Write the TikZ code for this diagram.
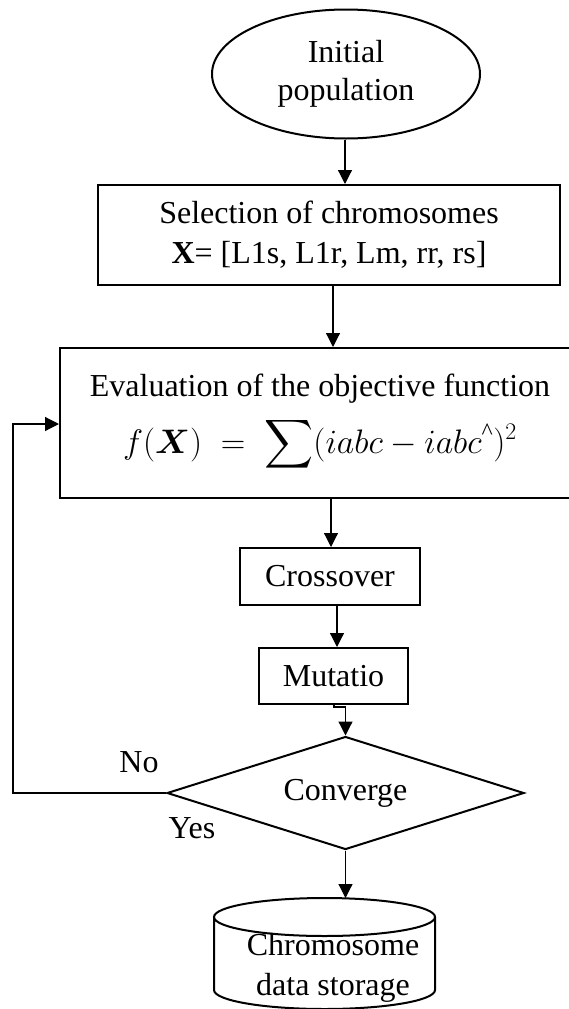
\RequirePackage{fix-cm}
\documentclass[tikz,border=0pt]{standalone}
\usepackage{amsmath}
\usepackage{fontspec}
\setmainfont{Liberation Serif}
\usetikzlibrary{arrows.meta,shapes.geometric}
% scalable large operators
\DeclareFontFamily{OMX}{cmex}{}
\DeclareFontShape{OMX}{cmex}{m}{n}{<->cmex10}{}

\tikzset{
  txt/.style={font=\fontsize{32}{40}\selectfont, align=center, inner sep=0pt},
  procbox/.style={txt, draw, line width=2pt, rectangle},
  conn/.style={line width=1.2pt, -{Triangle[width=14pt,length=14pt]}},
  lbl/.style={font=\fontsize{32}{40}\selectfont, inner sep=0pt}
}

\begin{document}
\begin{tikzpicture}[x=1pt, y=-1pt]
  \useasboundingbox (0,0) rectangle (569,1009);

  % start terminal
  \node[txt, draw, ellipse, line width=2pt, minimum width=268pt, minimum height=129pt]
    (init) at (346,74) {Initial\\[-2pt]population};

  % processing steps
  \node[procbox, minimum width=462pt, minimum height=100pt]
    (select) at (329,235) {Selection of chromosomes\\ $\mathbf{X}$= [L1s, L1r, Lm, rr, rs]};

  \node[procbox, minimum width=520pt, minimum height=150pt]
    (eval) at (320,423) {Evaluation of the objective function\\[13pt]
      {\fontsize{34}{40}\selectfont
       $f(\boldsymbol{X}) \;=\; \displaystyle\sum (iabc - iabc^{\text{\textasciicircum}})^2$}};

  \node[procbox, minimum width=180pt, minimum height=57pt]
    (cross) at (330,576.5) {Crossover};

  \node[procbox, minimum width=149pt, minimum height=56pt]
    (mut) at (333.5,676) {Mutatio};

  % decision
  \node[txt, draw, diamond, aspect=3.16, line width=2pt,
        minimum width=357pt, minimum height=113pt]
    (conv) at (345.5,793) {Converge};

  % data storage cylinder
  \coordinate (cyltop) at (324.5,898);
  \draw[line width=2pt]
    (214,917) arc[start angle=180, end angle=-180, x radius=110.5, y radius=19]
    (214,917) -- (214,990)
    arc[start angle=180, end angle=360, x radius=110.5, y radius=-19]
    -- (435,917);
  \node[txt] (store) at (333,968) {Chromosome\\ data storage};

  % connectors
  \draw[conn] (init.south -| 345,0) -- (select.north -| 345,0);
  \draw[conn] (select.south -| 333,0) -- (eval.north -| 333,0);
  \draw[conn] (eval.south -| 331,0) -- (cross.north -| 331,0);
  \draw[conn] (cross.south -| 337,0) -- (mut.north -| 337,0);
  \draw[conn] (mut.south -| 334,0) -- ++(0,2) -| (conv.north);
  \draw[conn] (conv.south) -- (cyltop -| conv.south);
  \draw[conn] (conv.west) -- (13,793) |- (eval.west |- 0,424);

  % branch labels
  \node[lbl] (no) at (139,762) {No};
  \node[lbl] (yes) at (192,828) {Yes};
\end{tikzpicture}
\end{document}
